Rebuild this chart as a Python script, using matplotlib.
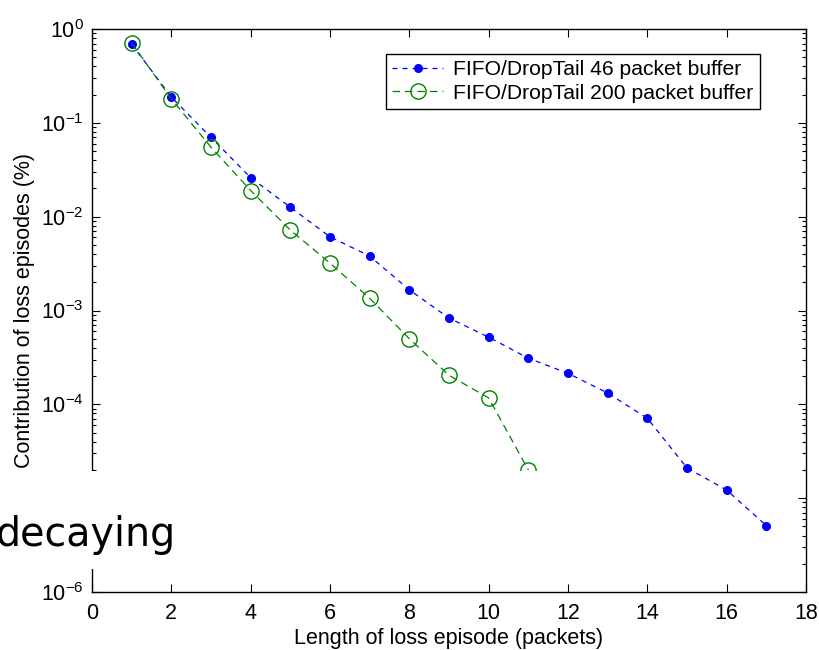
import matplotlib
matplotlib.use("Agg")
import matplotlib.pyplot as plt
from matplotlib.ticker import LogLocator, LogFormatterMathtext, NullFormatter, FixedLocator
from matplotlib.patches import Rectangle

# ---- data ----
episode_len_46 = [1, 2, 3, 4, 5, 6, 7, 8, 9, 10, 11, 12, 13, 14, 15, 16, 17]
contrib_46 = [0.69, 0.188, 0.070, 0.026, 0.0126, 0.0061, 0.0038, 0.00166, 0.00083,
              0.00052, 0.00031, 0.000214, 0.000132, 7.1e-5, 2.1e-5, 1.22e-5, 5.1e-6]
episode_len_200 = [1, 2, 3, 4, 5, 6, 7, 8, 9, 10, 11]
contrib_200 = [0.71, 0.18, 0.055, 0.019, 0.0072, 0.0032, 0.00135, 0.0005, 0.000204,
               0.000117, 2.0e-5]
label_46 = "FIFO/DropTail 46 packet buffer"
label_200 = "FIFO/DropTail 200 packet buffer"
xlabel = "Length of loss episode (packets)"
ylabel = "Contribution of loss episodes (%)"
x_ticks = [0, 2, 4, 6, 8, 10, 12, 14, 16, 18]
overlay_text = "decaying"

plt.rcParams['font.family'] = ['Liberation Sans', 'DejaVu Sans']
plt.rcParams['mathtext.default'] = 'regular'

W, H = 819, 650
fig = plt.figure(figsize=(W / 100, H / 100), dpi=100)
ax = fig.add_axes([92 / W, 1 - 592 / H, (806 - 92) / W, (592 - 29) / H])

ax.plot(episode_len_46, contrib_46, linestyle=(0, (4, 4)), color=(0, 0, 1), lw=0.9,
        marker='o', markersize=5.5, markerfacecolor=(0, 0, 1), markeredgecolor=(0, 0, 1),
        label=label_46)
ax.plot(episode_len_200, contrib_200, linestyle=(0, (6, 4)), color=(0, 0.5, 0), lw=0.9,
        marker='o', markersize=11, markerfacecolor='none', markeredgecolor=(0, 0.5, 0),
        markeredgewidth=1.0, label=label_200)

ax.set_yscale('log')
ax.set_xlim(0, 18)
ax.set_ylim(1e-6, 1)
ax.xaxis.set_major_locator(FixedLocator(x_ticks))
ax.yaxis.set_major_locator(LogLocator(base=10, numticks=10))
ax.yaxis.set_minor_locator(LogLocator(base=10, subs=range(2, 10), numticks=20))
ax.yaxis.set_major_formatter(LogFormatterMathtext())
ax.yaxis.set_minor_formatter(NullFormatter())

ax.tick_params(which='both', direction='in', top=True, right=True, labelsize=15.5,
               width=0.8, colors='black')
ax.tick_params(which='major', length=5.5)
ax.tick_params(which='minor', length=3)
ax.tick_params(axis='x', pad=8)
ax.tick_params(axis='y', pad=6)
for s in ax.spines.values():
    s.set_linewidth(1.0)

ax.set_xlabel(xlabel, fontsize=15.5, labelpad=3)
ax.set_ylabel(ylabel, fontsize=15.5, labelpad=4)

leg = ax.legend(loc='upper right', bbox_to_anchor=(760 / W, 1 - 54 / H),
                bbox_transform=fig.transFigure, fontsize=15.2, frameon=True,
                fancybox=False, framealpha=1, edgecolor='black', handlelength=2.4,
                handletextpad=0.5, borderpad=0.3, labelspacing=0.2, borderaxespad=0)
leg.get_frame().set_linewidth(1.0)

# slide overlay (white box with large text)
fig.add_artist(Rectangle((0, 1 - 569 / H), 545 / W, (569 - 471) / H,
                         transform=fig.transFigure, facecolor='white',
                         edgecolor='none', zorder=10))
fig.text(-4 / W, 1 - 546 / H, overlay_text, ha='left', va='baseline',
         fontsize=28.5, family=['DejaVu Sans'],
         color='black', zorder=11)

fig.savefig("out.png", dpi=100, facecolor='white')
